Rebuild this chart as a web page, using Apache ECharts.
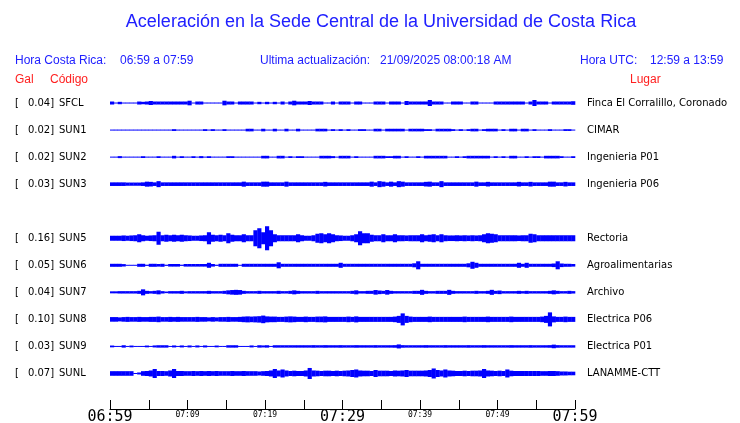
<!DOCTYPE html>
<html>
<head>
<meta charset="utf-8">
<script src="https://cdn.jsdelivr.net/npm/echarts@6/dist/echarts.min.js"></script>
<style>html,body{margin:0;padding:0;background:#fff}#c{width:740px;height:423px}</style>
</head>
<body>
<div id="c"></div>
<script>
// ---- data ----
const CODES = ['SFCL','SUN1','SUN2','SUN3','','SUN5','SUN6','SUN7','SUN8','SUN9','SUNL'];
const GAL = ['0.04','0.02','0.02','0.03','','0.16','0.05','0.04','0.10','0.03','0.07'];
const PLACES = ['Finca El Corralillo, Coronado','CIMAR','Ingenieria P01','Ingenieria P06','','Rectoria','Agroalimentarias','Archivo','Electrica P06','Electrica P01','LANAMME-CTT'];
const TICK_LABELS = ['06:59','07:04','07:09','07:14','07:19','07:24','07:29','07:34','07:39','07:44','07:49','07:54','07:59'];
const BUCKET_MIN = 0.5; // minutes per envelope sample (06:59 -> 07:59)

// envelope half-amplitudes, one value per 30 s
const SFCL = [1.5,0.5,1.2,0.5,0.5,0.5,0.5,1.5,1.2,1.5, 2,1.5,1.5,1.5,1.5,1.5,1.5,1.5,1.5,1.5, 2.3,0.5,1.5,1.5,0.5,0.5,0.5,0.5,0.5,2.3, 1.5,1.5,0.5,1.5,1.5,1.5,1.5,0.5,1.2,0.5, 1.2,0.5,1.2,0.5,1.5,0.5,1.5,2.3,1.5,1.5, 1.5,2,1.5,1.5,1.5,0.5,0.5,1.5,0.5,1.5, 1.5,1.5,0.5,1.5,1.5,0.5,0.5,0.5,1.5,1.5, 1.5,0.5,1.5,1.5,1.5,0.5,2,1.5,1.5,1.5, 1.5,1.5,3,1.5,1.5,1.5,0.5,0.5,1.5,1.5, 1.5,0.5,0.5,1.5,1.5,0.5,0.5,0.5,0.5,1.5, 1.5,1.5,1.5,1.5,1.5,1.5,1.5,0.5,1.5,3, 1.5,1.5,1.5,0.5,1.5,1.5,1.5,1.5,1.5,1.8];
const SUN1 = [0.5,0.5,0.5,0.5,0.5,0.5,0.5,0.5,0.5,0.5, 0.5,0.5,0.5,0.5,0.5,0.5,0.9,0.5,0.5,0.5, 0.5,0.5,0.5,0.5,0.9,0.5,0.9,0.5,0.5,0.9, 0.5,0.5,0.5,0.5,0.5,1.3,1.3,0.5,0.5,1.3, 0.5,0.5,1.3,0.5,0.5,1.3,0.5,0.5,1.3,0.5, 0.5,0.5,0.5,1.3,1.3,1.3,0.5,0.9,0.5,0.9, 0.5,0.9,0.5,0.5,0.9,0.9,0.5,0.5,1.3,1.3, 0.5,1.3,1.3,1.3,1.3,1.3,0.5,1.3,1.3,1.3, 1.3,0.9,0.9,0.5,1.3,1.3,1.3,1.3,0.9,0.5, 0.9,0.5,0.9,1.3,1.3,0.5,0.9,1.3,1.3,1.3, 0.5,0.9,0.5,1.3,1.3,0.5,1.3,1.3,0.5,0.9, 0.5,0.5,0.5,0.9,0.5,0.5,0.5,0.9,0.9,0.5];
const SUN2 = [0.5,0.5,1,0.5,0.5,0.5,0.5,0.5,0.9,0.5, 0.5,0.5,0.9,0.5,0.5,0.5,1.3,0.5,0.9,0.5, 0.5,0.9,0.5,1,0.5,0.9,0.5,0.5,0.5,0.5, 0.9,0.9,0.5,0.5,0.5,0.5,0.5,0.5,0.5,1.3, 1.3,0.5,0.5,1.3,1.3,0.5,0.9,0.5,0.9,0.9, 0.5,0.5,0.5,0.5,1.3,1.3,1.3,1,0.5,1.3, 1.3,1.3,0.5,0.9,0.5,0.5,0.5,0.5,1.3,1.3, 1.3,0.9,0.9,1.3,1.3,0.5,0.9,0.5,0.5,0.9, 0.5,1.3,1.3,1.3,1.3,1.3,1.3,0.5,0.5,0.9, 0.5,0.9,1.3,1.3,1.3,1.3,1.3,1.3,0.5,0.9, 0.5,0.9,0.5,1.3,1.3,0.5,0.5,0.9,0.5,0.9, 0.9,0.5,1.3,1.3,1.3,1.3,0.9,0.5,0.5,0.9];
const SUN3 = [1.8,1.8,1.8,1.8,1.6,1.6,1.6,1.6,1.8,2.5, 2.3,1.8,3,1.8,1.8,1.8,1.8,1.8,1.8,1.8, 1.8,1.8,1.8,1.8,1.8,1.8,1.8,1.8,1.8,1.8, 1.8,1.8,1.8,1.8,2.5,1.8,1.8,1.8,1.8,2.5, 2.5,1.8,1.8,1.8,1.8,2.5,1.8,1.8,1.8,1.8, 1.8,1.8,1.8,1.8,1.8,2.3,1.8,1.8,1.8,1.8, 1.8,1.8,1.8,1.8,1.8,1.8,1.8,2.5,1.8,3, 2.5,1.8,2.5,1.8,3,2.5,1.8,1.8,1.8,1.8, 1.8,2.3,2.5,1.8,1.8,3,1.8,1.8,1.8,1.8, 1.8,1.8,1.8,1.8,2.5,1.8,1.8,2.3,1.8,1.8, 1.8,1.8,1.8,1.8,1.8,2.3,1.8,1.8,2.3,1.8, 1.8,1.8,1.8,2.5,2.5,1.8,1.8,2.3,1.8,1.8];
const SUN5 = [2.5,2.5,2.5,2.8,2.5,2.8,3,4,3,2.5, 2.8,3,6.5,3,3.5,3,3.5,3,3.5,3, 2.8,2.5,2.5,2.8,3,6,3.5,3,3.5,3, 5,3.5,3,3,4,3,3,8,10,6, 12,8,4,3,3,3,3,3,4,3, 2.5,2.5,3,4.5,5,4,5,4,3,2.8, 2.5,2.5,3,4,7,5,5,3.5,3,3, 4,3,3,4,3,3,2.8,3,3,3, 4,3,3.5,4,3,4,3,2.8,2.8,3, 2.8,3,2.8,3,2.8,3,4,5,4.5,4, 3,3,3,3,3,2.8,3,3,4.5,4, 3,3,3,3,3,3,3,3,3,3];
const SUN6 = [1.5,1.5,1.5,1.2,0.5,0.5,0.5,1.5,1.5,0.6, 1.5,1.5,1.3,1.5,0.6,1.3,1.3,1.3,0.6,1.3, 1.3,1.3,1.3,1.3,1.3,2.5,1.3,0.6,1.5,1.5, 1.5,1.5,1.5,0.5,1.5,1.5,1.5,1.5,1.5,1.5, 1.5,1.5,1.5,3,1.5,1.5,1.5,1.5,1.5,1.5, 1.5,1.5,1.5,1.5,1.5,1.5,1.5,1.5,1.5,2.5, 1.5,1.5,1.5,1.5,1.5,1.5,1.5,1.5,1.5,1.5, 1.5,1.5,1.5,1.5,1.5,1.5,1.5,1.5,2,4, 1.5,1.5,1.5,1.5,1.5,1.5,1.5,1.5,1.5,1.5, 1.5,1.5,2,3.5,2.5,1.5,1.5,1.5,1.5,1.5, 1.5,1.5,1.5,1.5,1.5,2.5,1.5,2.5,1.5,1.5, 1.5,1.5,1.5,1.5,1.8,4,1.8,1.5,1.5,1.3];
const SUN7 = [1,1,1.2,1.2,1.2,1.2,1.2,1.5,3,1.5, 1.2,1.5,2,1.2,0.8,1.2,1.2,1.2,1.5,1, 1.2,1.2,1.2,1.2,1.2,1.5,1.2,1.2,1.2,1.5, 2,2.3,2.5,2.3,1.5,1.2,1.2,1.2,1.5,1.2, 1.2,1.2,1.2,1.5,1.2,1.2,1.5,2,1.5,1.2, 1.2,1.2,1.2,1.5,1.2,1.2,1.2,1.2,1.2,1.2, 1.2,1.2,1.5,2,1.2,1.2,1.5,1.5,2.3,1.8, 1.5,2.3,1.5,1.2,1.2,1.2,1.2,1.2,1.5,1.5, 2.5,1.5,1.2,1.2,1.5,1.5,1.5,2.5,1.5,1.2, 1.2,1.2,1.2,1.2,1.5,1.2,1.2,1.5,2.5,1.5, 1.8,1.2,1.2,1.2,1.2,1.5,1.2,1.5,1.2,1.2, 1.2,1.2,1.2,1.5,2,1.5,1.2,1.2,1.5,1.2];
const SUN8 = [2.3,2.3,2,2.3,2.5,2.3,2.3,2.5,2.3,2.3, 2.5,2.5,2.8,2.3,2.3,2.5,2.3,2.5,2.3,2.3, 2.3,2.3,2.5,2.3,2.3,2,2.3,2,2.3,2.3, 2.5,2.3,2.3,2.5,2.8,3,2.8,3,3.2,3.8, 3,2.8,2.8,2.5,2.5,2.8,3,2.8,2.5,2.5, 2.8,2.5,2.5,2.8,2.8,3,2.5,2.5,2.5,2.5, 2.5,2.8,2.5,3,2.5,2.5,2.5,2.5,2.5,2.5, 2.5,2.5,2.5,2.8,3.5,6,3.5,2.8,2.5,2.5, 2.5,2.5,2.8,2.5,2.5,2.5,2.5,2.5,2.5,2.5, 2.5,2.8,2.5,2.5,2.5,2.5,2.5,2.8,2.5,2.5, 2.5,2.5,2.5,2.8,2.5,2.5,2.5,2.5,2.5,2.5, 2.5,2.8,3.5,7,3,2.5,2.5,2.8,2.5,2.5];
const SUN9 = [0.9,0.5,0.5,1.2,0.5,0.9,0.5,0.5,0.5,0.9, 0.5,1,1.2,1.2,1.2,0.5,1,0.5,1,0.5, 1,0.5,1,0.5,1,0.5,0.5,0.9,0.5,0.5, 1.2,1.2,1.2,0.5,0.5,0.5,1,0.5,1.2,1, 1.2,0.5,1.2,1.2,1.2,1.2,1.2,1.2,1.2,1.2, 1.2,1.2,1.3,1.2,1.2,1.3,1.2,1.2,1.2,1.3, 1.2,1.2,1.2,1.3,1.2,1.2,1.2,1.2,1.3,1.2, 1.2,1.2,1.2,1.3,2,1.3,1.2,1.2,1.2,1.2, 1.2,1.3,1.2,1.2,1.2,1.2,1.3,1.2,1.2,1.2, 1.2,1.2,1.3,1.2,1.2,1.2,1.3,1.2,1.2,1.2, 1.2,1.2,1.2,1.3,1.2,1.2,1.2,1.2,1.3,1.2, 1.2,1.2,1.2,1.3,1.8,1.3,1.2,1.2,1.2,1.2];
const SUNL = [2.3,2.3,2.3,2.3,2.3,2.3,0.5,1,2.3,2.5, 3,4.5,2.5,2.5,2.3,3,4.5,2.5,2.5,2.3, 2.3,2.5,2.3,2.5,2.3,2.5,2.3,2.5,2.3,2.3, 2.3,2.5,2.3,2.3,2.5,2.3,2.3,2.3,2,2.3, 2.5,3,4.5,3,4,3,2.5,2.8,2.5,2.5, 3,5.5,3,2.8,2.5,2.8,2.8,2.5,2.8,2.5, 2.8,3,3.5,4,3,2.8,2.8,2.5,3.5,2.8, 2.8,2.8,2.5,3,2.8,3,3.5,2.8,2.8,2.8, 2.8,3,3.5,5,3.5,3,4,3,2.8,2.5, 2.5,2.8,2.5,2.8,2.8,3,4.5,3,2.8,2.5, 2.8,2.5,4,2.8,2.5,2.5,2.5,2.5,2.5,2.5, 2.5,2.3,2.3,2.5,2.5,2.3,2,2,1.8,1.8];
const TRACES = [SFCL,SUN1,SUN2,SUN3,null,SUN5,SUN6,SUN7,SUN8,SUN9,SUNL];

// ---- build ----
const ROW_UNITS = 27; // amplitude units per row band
const BLUE = '#0000ff', TBLUE = '#2020ff', TRED = '#ff2020';
const data = [];
TRACES.forEach((tr, row) => {
  if (!tr) return;
  tr.forEach((a, i) => data.push([i * BUCKET_MIN, row, a]));
});

const chart = echarts.init(document.getElementById('c'), null, {renderer: 'canvas'});
const txt = (t, x, y, fill, size, align) => ({
  type: 'text', x: x, y: y, silent: true,
  style: {text: t, fill: fill, font: size + 'px "Liberation Sans", Arial, sans-serif', textAlign: align || 'left', textVerticalAlign: 'middle'}
});

chart.setOption({
  animation: false,
  backgroundColor: '#fff',
  grid: {left: 110, right: 165, top: 89.5, bottom: 36, containLabel: false, outerBoundsMode: 'none'},
  xAxis: {
    type: 'value', min: 0, max: 60, interval: 5, offset: 22,
    axisLine: {show: true, lineStyle: {color: '#000', width: 1}},
    axisTick: {show: true, inside: true, length: 9, lineStyle: {color: '#000'}},
    splitLine: {show: false},
    axisLabel: {
      margin: 1,
      formatter: v => {
        const i = Math.round(v / 5);
        if (i % 2) return '';
        return (i % 6 === 0 ? '{M|' : '{m|') + TICK_LABELS[i] + '}';
      },
      rich: {
        M: {fontFamily: '"DejaVu Sans Mono", monospace', fontSize: 15, color: '#000', lineHeight: 15},
        m: {fontFamily: '"DejaVu Sans Mono", monospace', fontSize: 8, color: '#000', lineHeight: 9}
      }
    }
  },
  yAxis: [{
    type: 'category', data: CODES, inverse: true, position: 'left',
    axisLine: {show: false}, axisTick: {show: false}, splitLine: {show: false},
    axisLabel: {
      align: 'left', margin: 95,
      formatter: (v, i) => v ? '{b|[}{v|' + GAL[i] + ']}{c|' + v + '}' : '',
      rich: {
        b: {fontFamily: '"DejaVu Sans"', fontSize: 10, color: '#000', width: 12},
        v: {fontFamily: '"DejaVu Sans"', fontSize: 10, color: '#000', width: 28, align: 'right'},
        c: {fontFamily: '"DejaVu Sans"', fontSize: 10, color: '#000', padding: [0, 0, 0, 4]}
      }
    }
  }, {
    type: 'category', data: PLACES, inverse: true, position: 'right',
    axisLine: {show: false}, axisTick: {show: false}, splitLine: {show: false},
    axisLabel: {margin: 12, fontFamily: '"DejaVu Sans"', fontSize: 10, color: '#000'}
  }],
  series: [{
    type: 'custom',
    coordinateSystem: 'cartesian2d',
    encode: {x: 0, y: 1},
    data: data,
    renderItem: (params, api) => {
      const t = api.value(0), row = api.value(1), a = api.value(2);
      const p0 = api.coord([t, row]);
      const p1 = api.coord([t + BUCKET_MIN, row]);
      const band = api.size([0, 1])[1];
      const h = a / ROW_UNITS * band;
      return {
        type: 'rect',
        shape: {x: p0[0], y: p0[1] - h, width: p1[0] - p0[0] + 0.3, height: 2 * h},
        style: {fill: BLUE}
      };
    }
  }],
  graphic: [
    txt('Aceleración en la Sede Central de la Universidad de Costa Rica', 381, 22, TBLUE, 18, 'center'),
    txt('Hora Costa Rica:', 15, 61, TBLUE, 12),
    txt('06:59 a 07:59', 120, 61, TBLUE, 12),
    txt('Ultima actualización:', 260, 61, TBLUE, 12),
    txt('21/09/2025 08:00:18 AM', 380, 61, TBLUE, 12),
    txt('Hora UTC:', 580, 61, TBLUE, 12),
    txt('12:59 a 13:59', 650, 61, TBLUE, 12),
    txt('Gal', 15, 80, TRED, 12),
    txt('Código', 50, 80, TRED, 12),
    txt('Lugar', 630, 80, TRED, 12)
  ]
});
</script>
</body>
</html>
